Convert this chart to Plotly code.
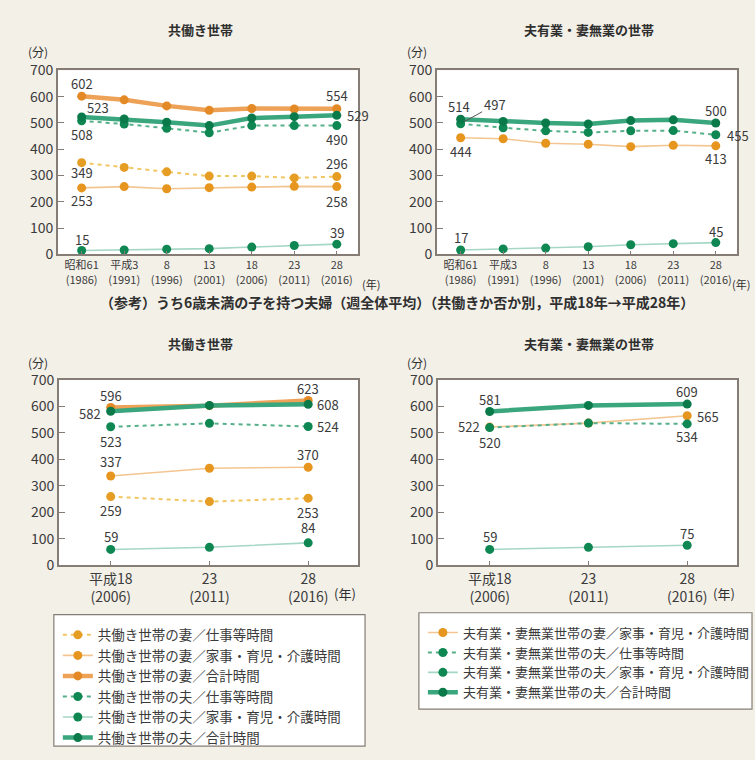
import plotly.graph_objects as go

# ---- category labels -------------------------------------------------------
top_years = ["昭和61<br>(1986)", "平成3<br>(1991)", "8<br>(1996)", "13<br>(2001)",
             "18<br>(2006)", "23<br>(2011)", "28<br>(2016)"]
bottom_years = ["平成18<br>(2006)", "23<br>(2011)", "28<br>(2016)"]

# ---- 共働き世帯 (分) ---------------------------------------------------------
dw_wife_work = [349, 331, 314, 298, 298, 291, 296]
dw_wife_care = [253, 258, 250, 254, 256, 259, 258]
dw_wife_total = [602, 588, 565, 548, 555, 553, 554]
dw_husb_work = [508, 496, 480, 463, 490, 490, 490]
dw_husb_care = [15, 17, 20, 22, 28, 34, 39]
dw_husb_total = [523, 515, 503, 490, 519, 524, 529]

# ---- 夫有業・妻無業の世帯 (分) -------------------------------------------------
sb_wife_care = [444, 440, 423, 419, 410, 415, 413]
sb_husb_work = [497, 482, 470, 464, 470, 471, 455]
sb_husb_care = [17, 21, 24, 29, 37, 41, 45]
sb_husb_total = [514, 506, 500, 496, 509, 512, 500]

# ---- 6歳未満の子を持つ夫婦: 共働き世帯 -----------------------------------------
dwk_wife_work = [259, 240, 253]
dwk_wife_care = [337, 366, 370]
dwk_wife_total = [596, 603, 623]
dwk_husb_work = [523, 536, 524]
dwk_husb_care = [59, 67, 84]
dwk_husb_total = [582, 604, 608]

# ---- 6歳未満の子を持つ夫婦: 夫有業・妻無業の世帯 --------------------------------
sbk_wife_care = [522, 537, 565]
sbk_husb_work = [520, 537, 534]
sbk_husb_care = [59, 67, 75]
sbk_husb_total = [581, 604, 609]

y_ticks = [0, 100, 200, 300, 400, 500, 600, 700]

W, H = 755, 760
FONT = "Noto Sans CJK JP"
TXT = "#3b3b3b"
FRAME = "#857d75"
BG = "#f3f0e8"


def fx(px):
    return px / W


def fy(py):
    return 1 - py / H


# line / marker styles per series kind
STYLE = {
    "wife_work": dict(line=dict(color="#f1c763", width=2, dash="4px,4px"),
                      marker=dict(color="#e59d24", size=9)),
    "wife_care": dict(line=dict(color="#f3c691", width=1.6),
                      marker=dict(color="#e6961f", size=9)),
    "wife_total": dict(line=dict(color="#eea257", width=4.5),
                       marker=dict(color="#e38a26", size=9)),
    "husb_work": dict(line=dict(color="#55b08a", width=2, dash="4px,4px"),
                      marker=dict(color="#0f8752", size=9)),
    "husb_care": dict(line=dict(color="#a6d7c5", width=1.6),
                      marker=dict(color="#0f8752", size=9)),
    "husb_total": dict(line=dict(color="#3aa67d", width=4.5),
                       marker=dict(color="#0b7a4b", size=9)),
}

fig = go.Figure()


def add_series(values, kind, axis, name, legend=None):
    n = len(values)
    st = STYLE[kind]
    fig.add_trace(go.Scatter(
        x=list(range(n)), y=values, mode="lines+markers",
        name=name, line=st["line"], marker=st["marker"],
        xaxis="x" + axis, yaxis="y" + axis,
        showlegend=legend is not None, legend=legend or "legend",
        hoverinfo="skip",
    ))


# top-left panel (legend 1)
add_series(dw_wife_work, "wife_work", "", "共働き世帯の妻／仕事等時間", "legend")
add_series(dw_wife_care, "wife_care", "", "共働き世帯の妻／家事・育児・介護時間", "legend")
add_series(dw_wife_total, "wife_total", "", "共働き世帯の妻／合計時間", "legend")
add_series(dw_husb_work, "husb_work", "", "共働き世帯の夫／仕事等時間", "legend")
add_series(dw_husb_care, "husb_care", "", "共働き世帯の夫／家事・育児・介護時間", "legend")
add_series(dw_husb_total, "husb_total", "", "共働き世帯の夫／合計時間", "legend")

# top-right panel (legend 2)
add_series(sb_wife_care, "wife_care", "2", "夫有業・妻無業世帯の妻／家事・育児・介護時間", "legend2")
add_series(sb_husb_work, "husb_work", "2", "夫有業・妻無業世帯の夫／仕事等時間", "legend2")
add_series(sb_husb_care, "husb_care", "2", "夫有業・妻無業世帯の夫／家事・育児・介護時間", "legend2")
add_series(sb_husb_total, "husb_total", "2", "夫有業・妻無業世帯の夫／合計時間", "legend2")

# bottom panels
add_series(dwk_wife_work, "wife_work", "3", "妻／仕事等時間")
add_series(dwk_wife_care, "wife_care", "3", "妻／家事・育児・介護時間")
add_series(dwk_wife_total, "wife_total", "3", "妻／合計時間")
add_series(dwk_husb_work, "husb_work", "3", "夫／仕事等時間")
add_series(dwk_husb_care, "husb_care", "3", "夫／家事・育児・介護時間")
add_series(dwk_husb_total, "husb_total", "3", "夫／合計時間")

add_series(sbk_wife_care, "wife_care", "4", "妻／家事・育児・介護時間")
add_series(sbk_husb_work, "husb_work", "4", "夫／仕事等時間")
add_series(sbk_husb_care, "husb_care", "4", "夫／家事・育児・介護時間")
add_series(sbk_husb_total, "husb_total", "4", "夫／合計時間")

# ---- value labels: (axis, series, index, xshift, yshift) -------------------
value_labels = [
    ("", dw_wife_total, 0, 0, 13), ("", dw_husb_total, 0, 16, 9),
    ("", dw_husb_work, 0, 0, -14), ("", dw_wife_work, 0, 0, -10),
    ("", dw_wife_care, 0, 0, -13), ("", dw_husb_care, 0, 0, 11),
    ("", dw_wife_total, 6, 0, 13), ("", dw_husb_total, 6, 21, 0),
    ("", dw_husb_work, 6, 0, -14), ("", dw_wife_work, 6, 0, 13),
    ("", dw_wife_care, 6, 0, -15), ("", dw_husb_care, 6, 0, 12),
    ("2", sb_husb_total, 0, -2, 13), ("2", sb_wife_care, 0, 0, -14),
    ("2", sb_husb_total, 6, 0, 12), ("2", sb_husb_work, 6, 22, -1),
    ("2", sb_wife_care, 6, 0, -13), ("2", sb_husb_care, 0, 0, 12),
    ("2", sb_husb_care, 6, 0, 11),
    ("3", dwk_wife_total, 0, 0, 12), ("3", dwk_husb_total, 0, -21, -2),
    ("3", dwk_husb_work, 0, 0, -15), ("3", dwk_wife_care, 0, 0, 14),
    ("3", dwk_wife_work, 0, 0, -14), ("3", dwk_husb_care, 0, 0, 13),
    ("3", dwk_wife_total, 2, 0, 12), ("3", dwk_husb_total, 2, 20, 0),
    ("3", dwk_husb_work, 2, 20, 0), ("3", dwk_wife_care, 2, 0, 13),
    ("3", dwk_wife_work, 2, 0, -14), ("3", dwk_husb_care, 2, 0, 15),
    ("4", sbk_husb_total, 0, 0, 12), ("4", sbk_wife_care, 0, -21, 1),
    ("4", sbk_husb_work, 0, 0, -15), ("4", sbk_husb_care, 0, 0, 13),
    ("4", sbk_husb_total, 2, 0, 13), ("4", sbk_wife_care, 2, 21, -1),
    ("4", sbk_husb_work, 2, 0, -13), ("4", sbk_husb_care, 2, 0, 12),
]

annotations = []
for ax, series, i, dx, dy in value_labels:
    annotations.append(dict(
        x=i, y=series[i], xref="x" + ax, yref="y" + ax, text=str(series[i]),
        showarrow=False, xshift=dx, yshift=dy,
        font=dict(family=FONT, size=13, color=TXT)))

# label joined to its point by a leader line
annotations.append(dict(
    x=0, y=sb_husb_work[0], xref="x2", yref="y2", text=str(sb_husb_work[0]),
    showarrow=True, arrowhead=0, arrowwidth=1, arrowcolor="#555",
    ax=34, ay=-19, standoff=4,
    font=dict(family=FONT, size=13, color=TXT)))

# panel titles and unit marks
def paper_text(text, px, py, size=13, bold=False, xanchor="center"):
    annotations.append(dict(
        x=fx(px), y=fy(py), xref="paper", yref="paper",
        text=f"<b>{text}</b>" if bold else text, showarrow=False,
        xanchor=xanchor, yanchor="middle",
        font=dict(family=FONT, size=size, color="#2f2f2f")))


paper_text("共働き世帯", 201, 19, 13, True)
paper_text("夫有業・妻無業の世帯", 591, 19, 13, True)
paper_text("（参考）うち6歳未満の子を持つ夫婦（週全体平均）（共働きか否か別，平成18年→平成28年）",
           398, 299, 14, True)
paper_text("共働き世帯", 201, 341, 13, True)
paper_text("夫有業・妻無業の世帯", 591, 341, 13, True)
for ux, uy in [(38, 42), (418, 42), (38, 361), (418, 361)]:
    paper_text("(分)", ux, uy, 12)
for ux, uy, sz in [(372, 280, 11), (743, 280, 11), (346, 598, 13), (726, 598, 13)]:
    paper_text("(年)", ux, uy, sz)

# ---- axes -------------------------------------------------------------------
panels = {
    "": (58, 359, 61, 250, top_years, [-0.56, 6.5], 11),
    "2": (438, 739, 61, 250, top_years, [-0.56, 6.5], 11),
    "3": (59, 359, 379, 569, bottom_years, [-0.525, 2.505], 14),
    "4": (439, 739, 379, 569, bottom_years, [-0.525, 2.505], 14),
}
layout_axes = {}
for ax, (x0, x1, y0, y1, cats, xr, tfs) in panels.items():
    layout_axes["xaxis" + ax] = dict(
        domain=[fx(x0), fx(x1)], range=xr, anchor="y" + ax,
        tickvals=list(range(len(cats))), ticktext=cats,
        showgrid=False, zeroline=False, showline=True, mirror=True,
        linecolor=FRAME, linewidth=1.5, ticks="inside", ticklen=4,
        tickcolor=FRAME, tickfont=dict(family=FONT, size=tfs, color=TXT))
    layout_axes["yaxis" + ax] = dict(
        domain=[fy(y1), fy(y0)], range=[0, 700], anchor="x" + ax,
        tickvals=y_ticks, showgrid=False, zeroline=False, showline=True,
        mirror=True, linecolor=FRAME, linewidth=1.5, ticks="inside",
        ticklen=6, tickcolor=FRAME,
        tickfont=dict(family=FONT, size=14, color=TXT))

# legend frames
shapes = [
    dict(type="rect", xref="paper", yref="paper", x0=fx(54), x1=fx(366),
         y0=fy(755), y1=fy(620), line=dict(color=FRAME, width=1.2),
         fillcolor="white", layer="below"),
    dict(type="rect", xref="paper", yref="paper", x0=fx(420), x1=fx(754),
         y0=fy(717), y1=fy(618), line=dict(color=FRAME, width=1.2),
         fillcolor="white", layer="below"),
]

legend_style = dict(bgcolor="rgba(0,0,0,0)", borderwidth=0,
                    xanchor="left", yanchor="top", tracegroupgap=0,
                    itemwidth=30)

fig.update_layout(
    width=W, height=H, margin=dict(l=0, r=0, t=0, b=0),
    paper_bgcolor=BG, plot_bgcolor="white",
    annotations=annotations, shapes=shapes,
    legend=dict(x=fx(58), y=fy(625),
                font=dict(family=FONT, size=13.5, color=TXT), **legend_style),
    legend2=dict(x=fx(424), y=fy(623),
                 font=dict(family=FONT, size=13, color=TXT), **legend_style),
    **layout_axes,
)

fig.write_html("out.html")
